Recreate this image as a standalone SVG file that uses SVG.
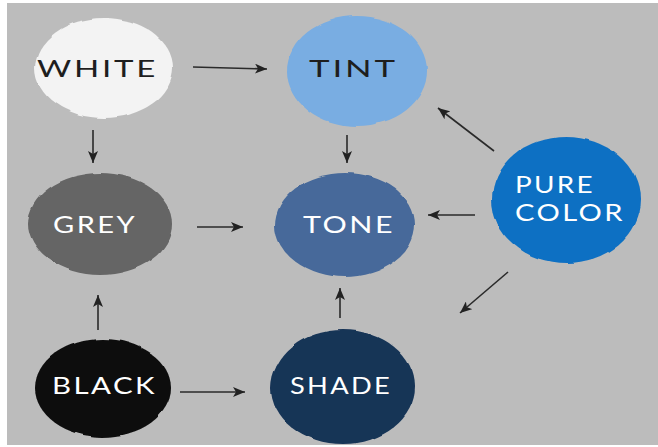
<svg xmlns="http://www.w3.org/2000/svg" width="658" height="447" viewBox="0 0 658 447">
  <defs>
    <style>
      .lbl { font-family: "Lato", "Liberation Sans", sans-serif; font-size: 24px; font-weight: 400; letter-spacing: 2px; }
      .dark { fill: #1e1e1e; }
      .light { fill: #ffffff; }
      .conn line { stroke: #2a2a2a; stroke-width: 1.6; fill: none; marker-end: url(#arr); }
    </style>
    <marker id="arr" viewBox="0 0 12 10" refX="12" refY="5" markerWidth="12" markerHeight="10" markerUnits="userSpaceOnUse" orient="auto">
      <path d="M0,0 L12,5 L0,10 L3,5 Z" fill="#222"/>
    </marker>
    <filter id="brush" x="-10%" y="-10%" width="120%" height="120%">
      <feTurbulence type="fractalNoise" baseFrequency="0.035" numOctaves="2" seed="5" result="n"/>
      <feDisplacementMap in="SourceGraphic" in2="n" scale="4" xChannelSelector="R" yChannelSelector="G"/>
    </filter>
  </defs>
  <rect x="0" y="0" width="658" height="447" fill="#ffffff"/>
  <rect x="7" y="3" width="651" height="442" fill="#bcbcbc"/>

  <g id="white">
    <ellipse cx="104" cy="68" rx="69" ry="50" fill="#f3f3f3" filter="url(#brush)"/>
    <text class="lbl dark" x="37" y="77" textLength="121" lengthAdjust="spacingAndGlyphs">WHITE</text>
  </g>
  <g id="tint">
    <ellipse cx="357" cy="71" rx="70" ry="55" fill="#79ade2" filter="url(#brush)"/>
    <text class="lbl dark" x="309" y="77" textLength="89" lengthAdjust="spacingAndGlyphs">TINT</text>
  </g>
  <g id="grey">
    <ellipse cx="100" cy="224" rx="72" ry="51" fill="#656565" filter="url(#brush)"/>
    <text class="lbl light" x="53" y="233" textLength="84" lengthAdjust="spacingAndGlyphs">GREY</text>
  </g>
  <g id="tone">
    <ellipse cx="345" cy="225" rx="70" ry="52" fill="#46699a" filter="url(#brush)"/>
    <text class="lbl light" x="303" y="233" textLength="92" lengthAdjust="spacingAndGlyphs">TONE</text>
  </g>
  <g id="black">
    <ellipse cx="103" cy="388" rx="68" ry="49" fill="#0c0c0c" filter="url(#brush)"/>
    <text class="lbl light" x="52" y="394" textLength="105" lengthAdjust="spacingAndGlyphs">BLACK</text>
  </g>
  <g id="shade">
    <ellipse cx="343" cy="387" rx="72" ry="57" fill="#163457" filter="url(#brush)"/>
    <text class="lbl light" x="290" y="394" textLength="102" lengthAdjust="spacingAndGlyphs">SHADE</text>
  </g>
  <g id="pure-color">
    <ellipse cx="566" cy="200" rx="74" ry="63" fill="#0b6fc3" filter="url(#brush)"/>
    <text class="lbl light" x="515" y="193" textLength="80" lengthAdjust="spacingAndGlyphs">PURE</text>
    <text class="lbl light" x="515" y="221" textLength="110" lengthAdjust="spacingAndGlyphs">COLOR</text>
  </g>

  <g id="connectors" class="conn">
    <line x1="193" y1="67" x2="267" y2="69"/>
    <line x1="93" y1="130" x2="93" y2="163"/>
    <line x1="347" y1="135" x2="347" y2="163"/>
    <line x1="197" y1="227" x2="243" y2="227"/>
    <line x1="98" y1="330" x2="98" y2="295"/>
    <line x1="340" y1="318" x2="340" y2="288"/>
    <line x1="180" y1="392" x2="245" y2="392"/>
    <line x1="494" y1="151" x2="438" y2="108"/>
    <line x1="475" y1="215" x2="428" y2="215"/>
    <line x1="508" y1="272" x2="460" y2="313"/>
  </g>
</svg>
